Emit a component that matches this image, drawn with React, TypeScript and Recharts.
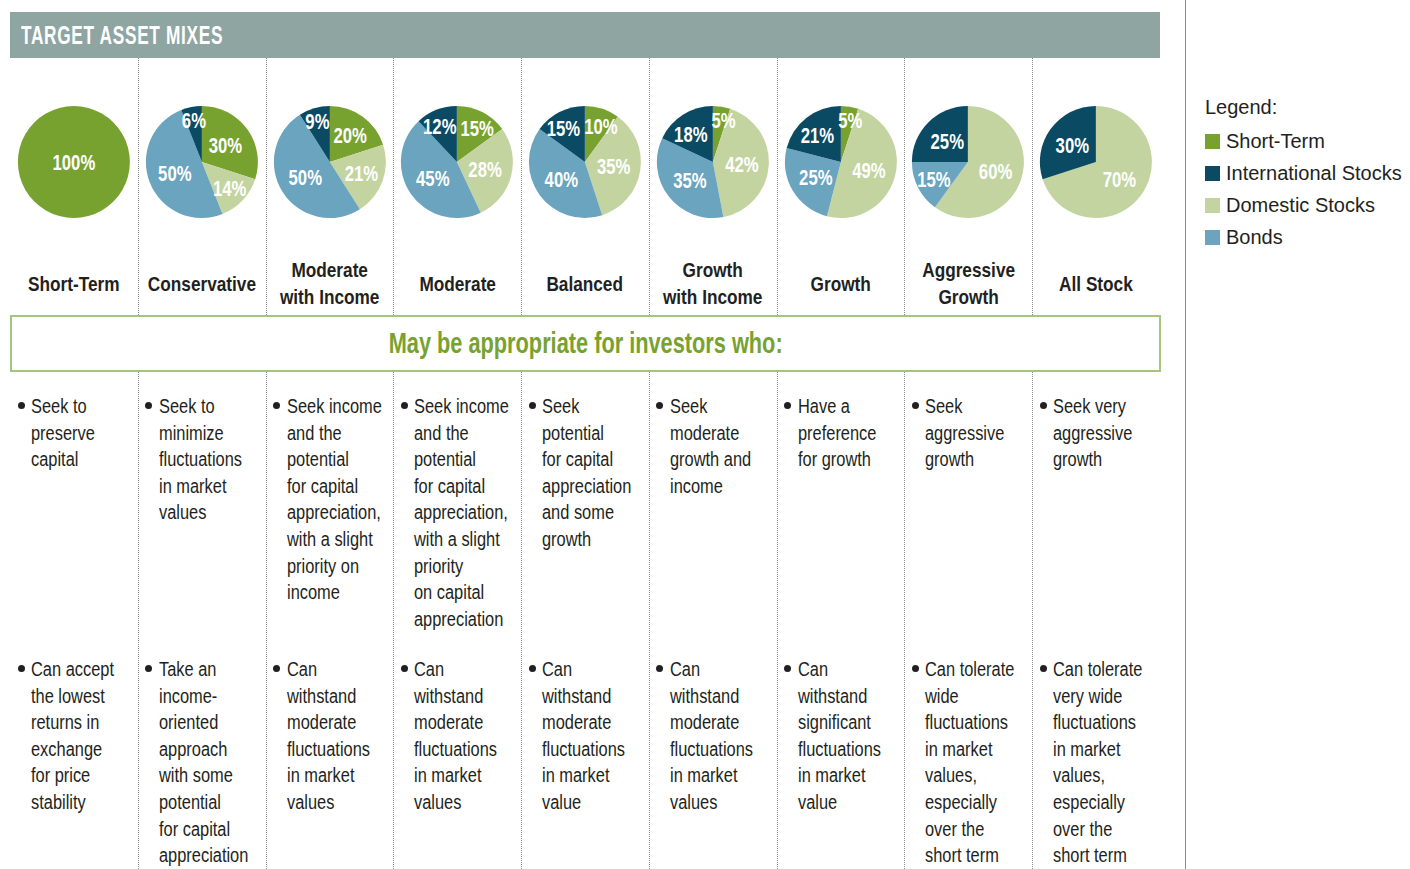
import React from "react";
import { PieChart, Pie, Cell } from "recharts";

// mixes, left to right
const mixNames = [
  "Short-Term",
  "Conservative",
  "Moderate\nwith Income",
  "Moderate",
  "Balanced",
  "Growth\nwith Income",
  "Growth",
  "Aggressive\nGrowth",
  "All Stock",
];

// percent of each mix
const shortTerm = [100, 30, 20, 15, 10, 5, 5, 0, 0];
const domesticStocks = [0, 14, 21, 28, 35, 42, 49, 60, 70];
const bonds = [0, 50, 50, 45, 40, 35, 25, 15, 0];
const internationalStocks = [0, 6, 9, 12, 15, 18, 21, 25, 30];

const legendItems = ["Short-Term", "International Stocks", "Domestic Stocks", "Bonds"];

const seekText = [
  "Seek to\npreserve\ncapital",
  "Seek to\nminimize\nfluctuations\nin market\nvalues",
  "Seek income\nand the\npotential\nfor capital\nappreciation,\nwith a slight\npriority on\nincome",
  "Seek income\nand the\npotential\nfor capital\nappreciation,\nwith a slight\npriority\non capital\nappreciation",
  "Seek\npotential\nfor capital\nappreciation\nand some\ngrowth",
  "Seek\nmoderate\ngrowth and\nincome",
  "Have a\npreference\nfor growth",
  "Seek\naggressive\ngrowth",
  "Seek very\naggressive\ngrowth",
];

const toleranceText = [
  "Can accept\nthe lowest\nreturns in\nexchange\nfor price\nstability",
  "Take an\nincome-\noriented\napproach\nwith some\npotential\nfor capital\nappreciation",
  "Can\nwithstand\nmoderate\nfluctuations\nin market\nvalues",
  "Can\nwithstand\nmoderate\nfluctuations\nin market\nvalues",
  "Can\nwithstand\nmoderate\nfluctuations\nin market\nvalue",
  "Can\nwithstand\nmoderate\nfluctuations\nin market\nvalues",
  "Can\nwithstand\nsignificant\nfluctuations\nin market\nvalue",
  "Can tolerate\nwide\nfluctuations\nin market\nvalues,\nespecially\nover the\nshort term",
  "Can tolerate\nvery wide\nfluctuations\nin market\nvalues,\nespecially\nover the\nshort term",
];

const COLORS: Record<string, string> = {
  "Short-Term": "#78a22f",
  "International Stocks": "#0a4a63",
  "Domestic Stocks": "#c3d4a1",
  Bonds: "#6aa4be",
};

// no condensed face installed, so Liberation Sans gets squeezed horizontally
const SANS = '"Liberation Sans", Arial, Helvetica, sans-serif';
const LEFT = 10;
const WIDTH = 1150;
const COL_W = WIDTH / 9;
const RADIUS = 56;
const RAD = Math.PI / 180;
const INK = "#231f20";
const LABEL_SIZE = 22;
const LABEL_SQUEEZE = 0.76;

// clockwise from 12 o'clock: short-term, domestic, bonds, international
const mixData = mixNames.map((_, i) =>
  [
    { name: "Short-Term", value: shortTerm[i] },
    { name: "Domestic Stocks", value: domesticStocks[i] },
    { name: "Bonds", value: bonds[i] },
    { name: "International Stocks", value: internationalStocks[i] },
  ].filter((d) => d.value > 0)
);

// label offsets from the centre: smaller slices sit further out, and
// neighbours that collide get nudged apart sideways
const labelWidth = (v: number) => (String(v).length * 0.556 + 0.889) * LABEL_SIZE * LABEL_SQUEEZE;
const labelOffsets = (values: number[]) => {
  let cum = 0;
  const pts = values.map((v) => {
    const theta = (cum + v / 2) * 3.6 * RAD;
    cum += v;
    const f = v === 100 ? 0 : v < 10 ? 0.76 : v <= 15 ? 0.68 : v <= 21 ? 0.6 : 0.52;
    return { dx: f * RADIUS * Math.sin(theta), dy: -f * RADIUS * Math.cos(theta), w: labelWidth(v) };
  });
  for (let k = 0; k < pts.length; k++) {
    const a = pts[k];
    const b = pts[(k + 1) % pts.length];
    if (a === b) continue;
    const need = (a.w + b.w) / 2 + 4;
    const gap = Math.abs(a.dx - b.dx);
    if (Math.abs(a.dy - b.dy) < 18 && gap < need) {
      const push = (need - gap) / 2;
      const dir = a.dx > b.dx ? 1 : -1;
      a.dx += dir * push;
      b.dx -= dir * push;
    }
  }
  return pts;
};
const mixLabels = mixData.map((d) => labelOffsets(d.map((s) => s.value)));

const makeLabel = (mixIndex: number) => (props: any) => {
  const { cx, cy, index, value } = props;
  const p = mixLabels[mixIndex][index];
  return (
    <text
      transform={`translate(${cx + p.dx},${cy + p.dy}) scale(${LABEL_SQUEEZE},1)`}
      x={0}
      y={0}
      fill="#ffffff"
      textAnchor="middle"
      dominantBaseline="central"
      style={{ fontFamily: SANS, fontWeight: 700, fontSize: LABEL_SIZE }}
    >
      {value}%
    </text>
  );
};

const Bullet = ({ text, top, left }: { text: string; top: number; left: number }) => (
  <>
    <div
      style={{
        position: "absolute",
        top: top + 9,
        left: left + 7.5,
        width: 7,
        height: 7,
        borderRadius: "50%",
        background: INK,
      }}
    />
    <div
      style={{
        position: "absolute",
        top,
        left: left + 21,
        fontFamily: SANS,
        fontSize: 20,
        lineHeight: "26.6px",
        color: INK,
        whiteSpace: "pre",
        transform: "scaleX(0.82)",
        transformOrigin: "0 0",
      }}
    >
      {text}
    </div>
  </>
);

export default function App() {
  return (
    <div style={{ position: "absolute", left: 0, top: 0, width: 1410, height: 869, background: "#fff", overflow: "hidden" }}>
      {/* header */}
      <div
        style={{
          position: "absolute",
          left: LEFT,
          top: 12,
          width: WIDTH,
          height: 46,
          background: "#8fa5a1",
        }}
      >
        <div
          style={{
            position: "absolute",
            left: 11,
            top: 0,
            color: "#fff",
            fontFamily: SANS,
            fontWeight: 700,
            fontSize: 25,
            letterSpacing: 1,
            lineHeight: "46px",
            whiteSpace: "pre",
            transform: "scaleX(0.69)",
            transformOrigin: "0 0",
          }}
        >
          TARGET ASSET MIXES
        </div>
      </div>

      {/* dotted column separators */}
      {mixNames.slice(1).map((_, i) => (
        <div
          key={"sep" + i}
          style={{
            position: "absolute",
            left: Math.round(LEFT + COL_W * (i + 1)),
            top: 58,
            height: 811,
            borderLeft: "1px dotted #8a8a8a",
          }}
        />
      ))}

      {/* pies and titles */}
      {mixNames.map((name, i) => {
        const colLeft = LEFT + COL_W * i;
        return (
          <React.Fragment key={name}>
            <div style={{ position: "absolute", left: colLeft, top: 100 }}>
              <PieChart width={COL_W} height={124}>
                <Pie
                  data={mixData[i]}
                  dataKey="value"
                  nameKey="name"
                  cx="50%"
                  cy="50%"
                  outerRadius={RADIUS}
                  startAngle={90}
                  endAngle={-270}
                  stroke="none"
                  label={makeLabel(i)}
                  labelLine={false}
                  isAnimationActive={false}
                >
                  {mixData[i].map((d) => (
                    <Cell key={d.name} fill={COLORS[d.name]} />
                  ))}
                </Pie>
              </PieChart>
            </div>
            <div
              style={{
                position: "absolute",
                left: colLeft,
                top: 256,
                width: COL_W,
                height: 54,
                display: "flex",
                alignItems: "center",
                justifyContent: "center",
              }}
            >
              <div
                style={{
                  textAlign: "center",
                  whiteSpace: "pre",
                  fontFamily: SANS,
                  fontWeight: 700,
                  fontSize: 21,
                  lineHeight: "27px",
                  color: INK,
                  transform: "scaleX(0.82)",
                }}
              >
                {name}
              </div>
            </div>
            <Bullet text={seekText[i]} top={393} left={colLeft} />
            <Bullet text={toleranceText[i]} top={656} left={colLeft} />
          </React.Fragment>
        );
      })}

      {/* banner */}
      <div
        style={{
          position: "absolute",
          left: LEFT,
          top: 315,
          width: WIDTH + 1,
          height: 57,
          border: "2px solid #a4c57c",
          boxSizing: "border-box",
          background: "#fff",
          display: "flex",
          alignItems: "center",
          justifyContent: "center",
        }}
      >
        <div
          style={{
            color: "#78a22f",
            fontFamily: SANS,
            fontWeight: 700,
            fontSize: 29,
            whiteSpace: "pre",
            transform: "scaleX(0.75)",
          }}
        >
          May be appropriate for investors who:
        </div>
      </div>

      {/* legend */}
      <div style={{ position: "absolute", left: 1185, top: 0, height: 869, borderLeft: "1.5px solid #8a8a8a" }} />
      <div style={{ position: "absolute", left: 1205, top: 93, fontFamily: SANS, fontSize: 20, color: INK }}>
        <div style={{ height: 32, lineHeight: "28px" }}>Legend:</div>
        {legendItems.map((item) => (
          <div key={item} style={{ height: 32, display: "flex", alignItems: "center" }}>
            <span style={{ display: "inline-block", width: 15, height: 15, background: COLORS[item], marginRight: 6 }} />
            <span>{item}</span>
          </div>
        ))}
      </div>
    </div>
  );
}
